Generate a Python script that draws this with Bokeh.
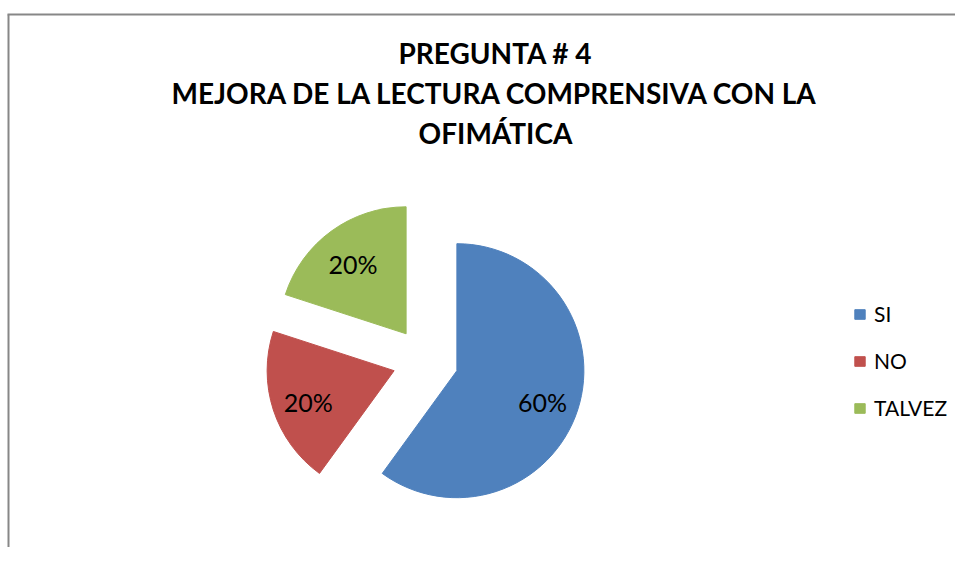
import numpy as np
from bokeh.plotting import figure
from bokeh.models import Range1d, Legend, LegendItem, ColumnDataSource
from bokeh.core.properties import value
from bokeh.embed import file_html
from bokeh.resources import INLINE

# ---- data ----
categories = ["SI", "NO", "TALVEZ"]
percent = [60, 20, 20]
labels = ["60%", "20%", "20%"]
colors = ["#4F81BD", "#C0504D", "#9BBB59"]
title_lines = ["PREGUNTA # 4", "MEJORA DE LA LECTURA COMPRENSIVA CON LA", "OFIMÁTICA"]

W, H = 955, 547
cx, cy = 425, H - 360    # pie centre (data units = px)
R = 127                  # radius
EXPLODE = 33             # explosion offset
LABEL_F = 0.71

p = figure(width=W, height=H, x_range=Range1d(0, W), y_range=Range1d(0, H),
           output_backend="svg", toolbar_location=None, min_border=0,
           x_axis_location=None, y_axis_location=None)
p.grid.visible = False
p.outline_line_color = None
p.background_fill_color = "white"
p.border_fill_color = "white"

# chart frame (left and top edges)
p.line([8, 8], [0, H - 14], line_color="#878787", line_width=2)
p.line([7, W], [H - 14, H - 14], line_color="#878787", line_width=2)

vals = np.array(percent, dtype=float)
frac = vals / vals.sum()
cum = np.concatenate([[0], np.cumsum(frac)])
start = np.deg2rad(90 - 360 * cum[1:])
end = np.deg2rad(90 - 360 * cum[:-1])
mid = (start + end) / 2
xs = cx + EXPLODE * np.cos(mid)
ys = cy + EXPLODE * np.sin(mid)
lx = xs + LABEL_F * R * np.cos(mid)
ly = ys + LABEL_F * R * np.sin(mid) - 3

items = []
for i, cat in enumerate(categories):
    src = ColumnDataSource(dict(x=[xs[i]], y=[ys[i]], s=[start[i]], e=[end[i]]))
    r = p.wedge(x="x", y="y", radius=R, start_angle="s", end_angle="e",
                direction="anticlock", source=src,
                fill_color=colors[i], line_color=colors[i], line_width=1)
    items.append(LegendItem(label=cat, renderers=[r]))

p.text(x=list(lx), y=list(ly), text=labels, text_align="center",
       text_baseline="middle", text_font=value("Lato"),
       text_font_size="25px", text_color="#000000")

title_y = [H - 52, H - 92, H - 132]
p.text(x=[495] * 3, y=title_y, text=title_lines, text_align="center",
       text_baseline="alphabetic", text_font=value("Lato"),
       text_font_size="28px", text_font_style="bold", text_color="#000000")

legend = Legend(items=items, location=(853, 127), orientation="vertical",
                glyph_width=13, glyph_height=12, label_height=24,
                label_standoff=8, spacing=22, padding=0, margin=0,
                border_line_color=None, background_fill_alpha=0,
                label_text_font="Lato", label_text_font_size="21px",
                label_text_color="#000000")
p.add_layout(legend)

open("out.html", "w").write(file_html(p, INLINE))
